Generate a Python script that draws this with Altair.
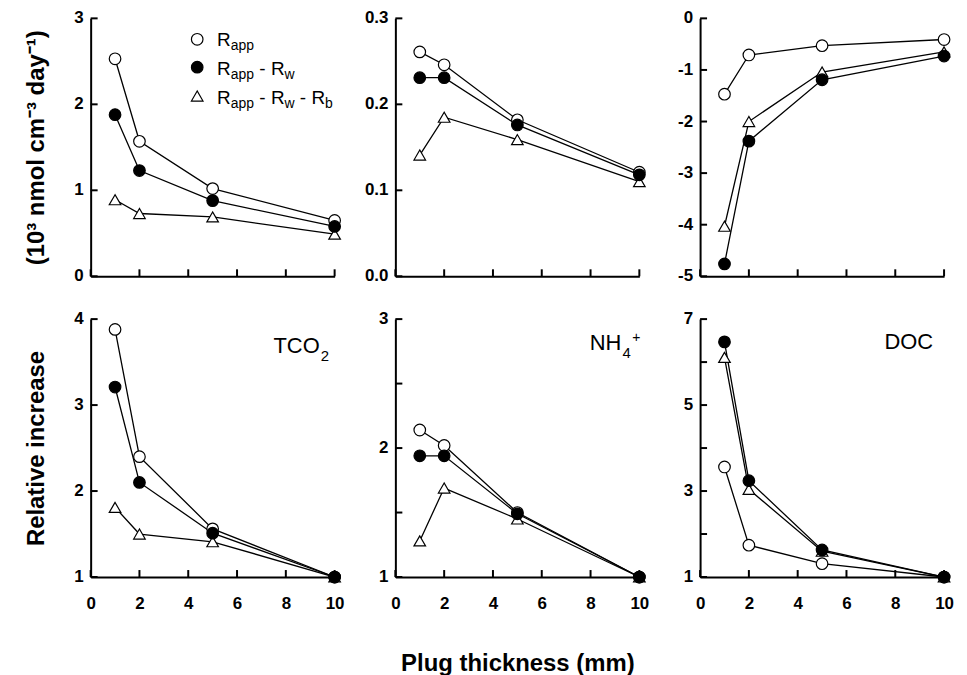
import altair as alt
import pandas as pd

FONT = "Liberation Sans, Arial, sans-serif"

# ---------------- data ----------------
thickness = [1, 2, 5, 10]
x_ticks = [0, 2, 4, 6, 8, 10]

# absolute rates (10^3 nmol cm^-3 day^-1)
tco2_abs_rapp = [2.53, 1.57, 1.02, 0.65]
tco2_abs_rw = [1.88, 1.23, 0.88, 0.58]
tco2_abs_rb = [0.89, 0.73, 0.69, 0.49]

nh4_abs_rapp = [0.261, 0.246, 0.182, 0.121]
nh4_abs_rw = [0.231, 0.231, 0.176, 0.118]
nh4_abs_rb = [0.141, 0.185, 0.159, 0.110]

doc_abs_rapp = [-1.47, -0.71, -0.53, -0.41]
doc_abs_rw = [-4.76, -2.38, -1.19, -0.73]
doc_abs_rb = [-4.03, -2.00, -1.04, -0.65]

# relative increase
tco2_rel_rapp = [3.88, 2.40, 1.56, 1.0]
tco2_rel_rw = [3.21, 2.10, 1.51, 1.0]
tco2_rel_rb = [1.81, 1.50, 1.41, 1.0]

nh4_rel_rapp = [2.14, 2.02, 1.50, 1.0]
nh4_rel_rw = [1.94, 1.94, 1.49, 1.0]
nh4_rel_rb = [1.28, 1.69, 1.45, 1.0]

doc_rel_rapp = [3.56, 1.74, 1.31, 1.0]
doc_rel_rw = [6.47, 3.24, 1.63, 1.0]
doc_rel_rb = [6.11, 3.04, 1.60, 1.0]

series_keys = ["rapp", "rw", "rb"]

# y tick positions and y tick labels per panel
tco2_abs_ticks = [0, 1, 2, 3]
tco2_abs_labels = ["0", "1", "2", "3"]
nh4_abs_ticks = [0.0, 0.1, 0.2, 0.3]
nh4_abs_labels = ["0.0", "0.1", "0.2", "0.3"]
doc_abs_ticks = [-5, -4, -3, -2, -1, 0]
doc_abs_labels = ["-5", "-4", "-3", "-2", "-1", "0"]
tco2_rel_ticks = [1, 2, 3, 4]
tco2_rel_labels = ["1", "2", "3", "4"]
nh4_rel_ticks = [1, 1.5, 2, 2.5, 3]
nh4_rel_labels = ["1", "", "2", "", "3"]
doc_rel_ticks = [1, 2, 3, 4, 5, 6, 7]
doc_rel_labels = ["1", "", "3", "", "5", "", "7"]

# ---------------- layout ----------------
W, H = 245, 259
TICK = 7
MSIZE = 135

shape_scale = alt.Scale(domain=series_keys, range=["circle", "circle", "triangle-up"])
fill_scale = alt.Scale(domain=series_keys, range=["white", "black", "white"])


def make_df(rapp, rw, rb):
    rows = []
    # draw order: triangles, open circles, filled circles on top
    for key, vals in (("rb", rb), ("rapp", rapp), ("rw", rw)):
        for x, v in zip(thickness, vals):
            rows.append({"x": x, "y": v, "series": key})
    return pd.DataFrame(rows)


def txt(s, x, y, size, align="left"):
    return alt.Chart(alt.Data(values=[{}])).mark_text(
        text=s, align=align, baseline="alphabetic", fontSize=size, font=FONT,
        color="black"
    ).encode(x=alt.value(x), y=alt.value(y))


def sym(shape, fill, x, y):
    return alt.Chart(alt.Data(values=[{}])).mark_point(
        shape=shape, filled=True, fill=fill, stroke="black", strokeWidth=1.2,
        size=MSIZE, opacity=1
    ).encode(x=alt.value(x), y=alt.value(y))


def panel(df, ydom, ytick_vals, ytick_labels, xlabels, ytitle, xtitle,
          extras, xtitle_pad=40):
    xs = alt.Scale(domain=[0, 10], nice=False, zero=False)
    ys = alt.Scale(domain=ydom, nice=False, zero=False)
    x_axis = alt.Axis(values=x_ticks, labels=xlabels, title=xtitle,
                      titlePadding=xtitle_pad, format="d")
    y_axis = alt.Axis(values=ytick_vals, labels=False, title=ytitle)
    base = alt.Chart(df)
    lines = base.mark_line(color="black", strokeWidth=1.3).encode(
        x=alt.X("x:Q", scale=xs, axis=x_axis),
        y=alt.Y("y:Q", scale=ys, axis=y_axis),
        detail="series:N",
    )
    points = base.mark_point(filled=True, opacity=1, stroke="black",
                             strokeWidth=1.2, size=MSIZE).encode(
        x=alt.X("x:Q", scale=xs, axis=x_axis),
        y=alt.Y("y:Q", scale=ys, axis=y_axis),
        shape=alt.Shape("series:N", scale=shape_scale, legend=None),
        fill=alt.Fill("series:N", scale=fill_scale, legend=None),
    )
    xt = alt.Chart(pd.DataFrame({"x": x_ticks})).mark_rule(
        color="black", strokeWidth=2).encode(
        x=alt.X("x:Q", scale=xs, axis=x_axis),
        y=alt.value(H), y2=alt.value(H - TICK))
    tick_df = pd.DataFrame({"y": ytick_vals, "lab": ytick_labels})
    yt = alt.Chart(tick_df).mark_rule(color="black", strokeWidth=2).encode(
        y=alt.Y("y:Q", scale=ys, axis=y_axis),
        x=alt.value(0), x2=alt.value(TICK))
    ylab = alt.Chart(tick_df).mark_text(
        align="right", baseline="middle", font=FONT, fontSize=17,
        fontWeight="bold", color="black").encode(
        y=alt.Y("y:Q", scale=ys, axis=y_axis),
        x=alt.value(-7), text="lab:N")
    return alt.layer(lines, xt, yt, ylab, points, *extras).properties(
        width=W, height=H)


# legend (top-left panel)
legend = [
    sym("circle", "white", 107, 21),
    sym("circle", "black", 107, 49),
    sym("triangle-up", "white", 107, 78),
    txt("R", 127, 28, 19), txt("app", 140.7, 32, 14),
    txt("R", 127, 57, 19), txt("app", 140.7, 61, 14), txt("-", 169.4, 57, 19),
    txt("R", 181, 57, 19), txt("w", 194.7, 61, 14),
    txt("R", 127, 86, 19), txt("app", 140.7, 90, 14), txt("-", 169.4, 86, 19),
    txt("R", 181, 86, 19), txt("w", 194.7, 90, 14), txt("-", 210.1, 86, 19),
    txt("R", 221.7, 86, 19), txt("b", 235.4, 90, 14),
]

lab_tco2 = [txt("TCO", 230, 34, 22, align="right"), txt("2", 231, 42, 15)]
lab_nh4 = [txt("NH", 227, 31, 22, align="right"), txt("4", 228, 39, 15),
           txt("+", 238, 23, 14)]
lab_doc = [txt("DOC", 234, 30, 22, align="right")]

p1 = panel(make_df(tco2_abs_rapp, tco2_abs_rw, tco2_abs_rb), [0, 3],
           tco2_abs_ticks, tco2_abs_labels, False,
           "(10\u00b3 nmol cm\u207b\u00b3  day\u207b\u00b9)", None, legend)
p2 = panel(make_df(nh4_abs_rapp, nh4_abs_rw, nh4_abs_rb), [0, 0.3],
           nh4_abs_ticks, nh4_abs_labels, False, None, None, [])
p3 = panel(make_df(doc_abs_rapp, doc_abs_rw, doc_abs_rb), [-5, 0],
           doc_abs_ticks, doc_abs_labels, False, None, None, [])
p4 = panel(make_df(tco2_rel_rapp, tco2_rel_rw, tco2_rel_rb), [1, 4],
           tco2_rel_ticks, tco2_rel_labels, True, "Relative increase",
           None, lab_tco2)
p5 = panel(make_df(nh4_rel_rapp, nh4_rel_rw, nh4_rel_rb), [1, 3],
           nh4_rel_ticks, nh4_rel_labels, True, None,
           "Plug thickness (mm)", lab_nh4)
p6 = panel(make_df(doc_rel_rapp, doc_rel_rw, doc_rel_rb), [1, 7],
           doc_rel_ticks, doc_rel_labels, True, None, None, lab_doc)

chart = alt.concat(
    p1, p2, p3, p4, p5, p6, columns=3,
    spacing={"row": 43, "column": 61}, bounds="flush",
).properties(
    padding={"left": 16, "top": 0, "right": 5, "bottom": 0},
    background="white",
).configure_view(stroke=None).configure_axis(
    domainColor="black", domainWidth=2, ticks=False, tickSize=0, grid=False,
    labelFont=FONT, labelFontSize=17, labelFontWeight="bold", labelColor="black",
    labelOverlap=False,
    titleFont=FONT, titleFontSize=24, titleFontWeight="bold", titleColor="black",
).configure_axisX(labelPadding=19, labelFlush=False).configure_axisY(
    labelPadding=0, titlePadding=42)

chart.save("out.html", embed_options={"renderer": "svg", "actions": False})
